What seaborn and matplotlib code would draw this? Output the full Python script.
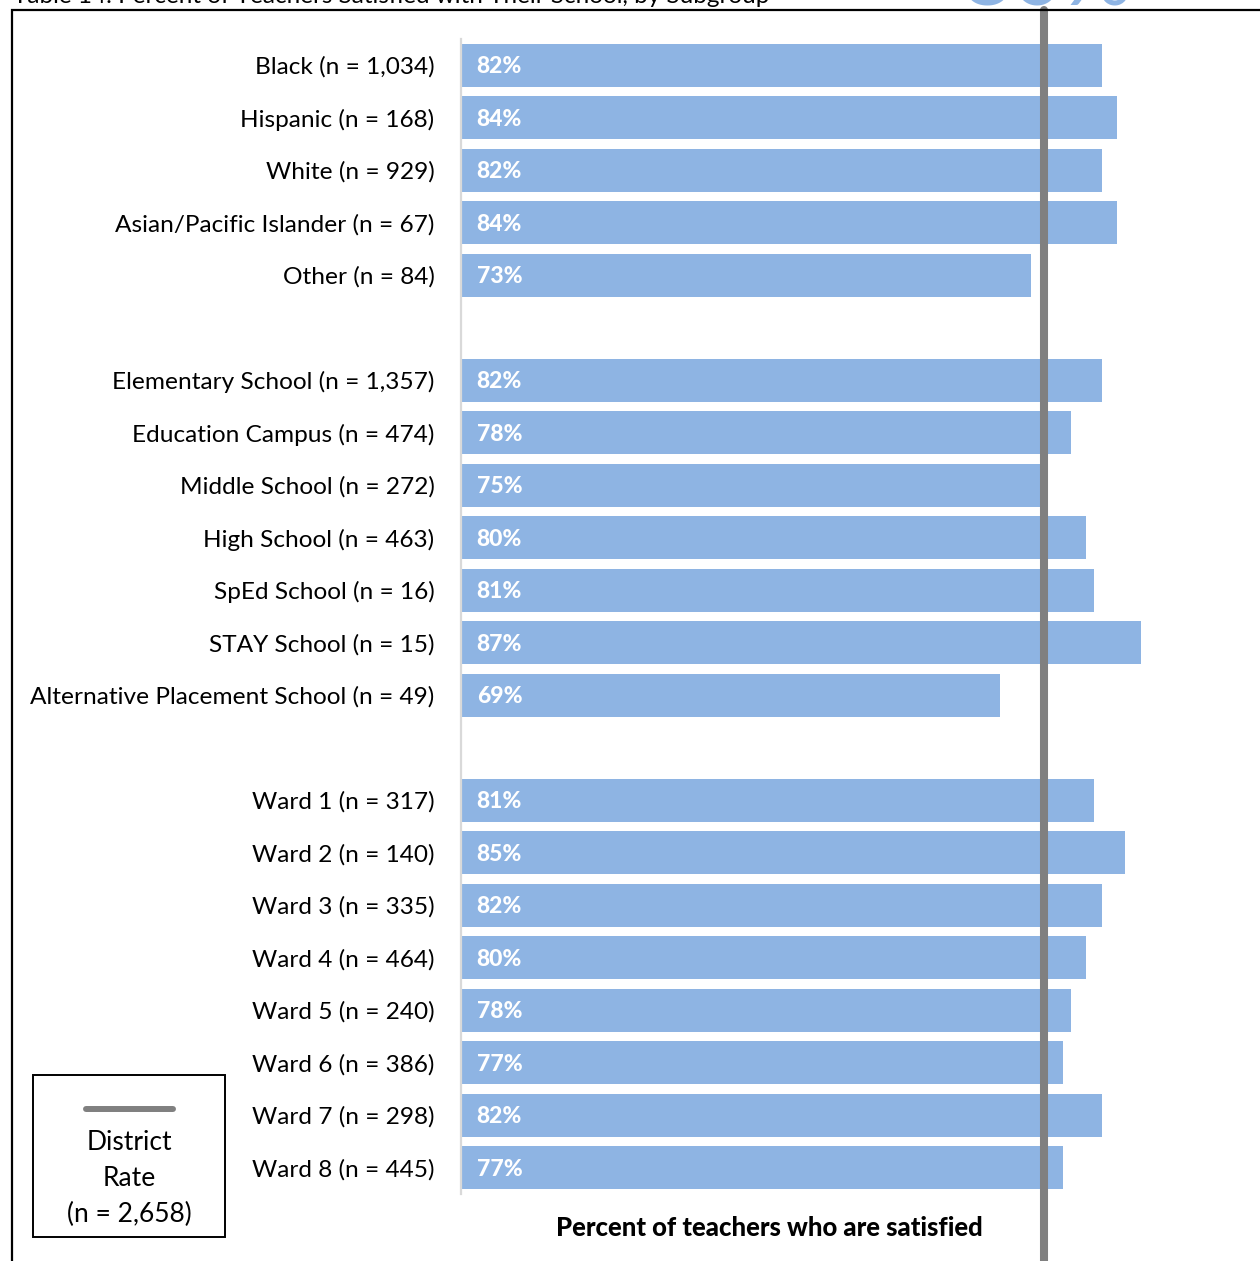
import matplotlib
matplotlib.use("Agg")
import matplotlib.pyplot as plt
from matplotlib.patches import Rectangle
from matplotlib.lines import Line2D
import seaborn as sns
import pandas as pd

# ---- data -------------------------------------------------------------
race_labels = ["Black (n = 1,034)", "Hispanic (n = 168)", "White (n = 929)",
               "Asian/Pacific Islander (n = 67)", "Other (n = 84)"]
race_values = [82, 84, 82, 84, 73]

school_labels = ["Elementary School (n = 1,357)", "Education Campus (n = 474)",
                 "Middle School (n = 272)", "High School (n = 463)",
                 "SpEd School (n = 16)", "STAY School (n = 15)",
                 "Alternative Placement School (n = 49)"]
school_values = [82, 78, 75, 80, 81, 87, 69]

ward_labels = ["Ward 1 (n = 317)", "Ward 2 (n = 140)", "Ward 3 (n = 335)",
               "Ward 4 (n = 464)", "Ward 5 (n = 240)", "Ward 6 (n = 386)",
               "Ward 7 (n = 298)", "Ward 8 (n = 445)"]
ward_values = [81, 85, 82, 80, 78, 77, 82, 77]

district_line = 74.6
district_label = ["District", "Rate", "(n = 2,658)"]
x_label = "Percent of teachers who are satisfied"
table_title = "Table 14. Percent of Teachers Satisfied with Their School, by Subgroup"
headline = "80%"

# ---- layout -----------------------------------------------------------
W, H = 1260, 1261
BAR = "#8EB4E3"
GREY = "#808080"
FONT = ["Lato", "DejaVu Sans"]

sns.set_theme(style="white")
plt.rcParams["font.family"] = FONT

df = pd.DataFrame({
    "group": race_labels + school_labels + ward_labels,
    "pct": race_values + school_values + ward_values,
})
order = race_labels + [" "] + school_labels + ["  "] + ward_labels

fig = plt.figure(figsize=(W / 100, H / 100), dpi=100)

def fx(px):
    return px / W

def fy(py):
    return 1 - py / H

ax = fig.add_axes([fx(461), fy(1194), fx(1242.5) - fx(461), fy(39) - fy(1194)])
sns.barplot(data=df, x="pct", y="group", order=order, orient="h",
            color=BAR, saturation=1, width=0.82, linewidth=0, ax=ax)

ax.set_xlim(0, 100)
ax.set_ylim(len(order) - 0.5, -0.5)
ax.set_xticks([])
ax.set_xlabel("")
ax.set_ylabel("")
ax.tick_params(axis="y", length=0, pad=19, labelsize=17.6, labelcolor="black")
for side in ("top", "right", "bottom"):
    ax.spines[side].set_visible(False)
ax.spines["left"].set_color("#D9D9D9")
ax.spines["left"].set_linewidth(1.6)

# value labels inside the bars
for i, lab in enumerate(order):
    row = df[df["group"] == lab]
    if row.empty:
        continue
    v = int(row["pct"].iloc[0])
    ax.text(2.0, i + 0.03, f"{v}%", color="white", fontweight="black",
            fontsize=16.5, ha="left", va="center")

# district reference line running through the frame
ax.axvline(district_line, ymin=-0.1, ymax=1 + 29 / 1155, color=GREY,
           linewidth=5.8, clip_on=False, zorder=5)

fig.text(fx(769), fy(1228), x_label, ha="center", va="center",
         fontsize=18.5, fontweight="black", color="black")

# outer frame
fig.patches.append(Rectangle((fx(12), -0.05), 1.2, fy(10) + 0.05,
                             transform=fig.transFigure, fill=False,
                             edgecolor="black", linewidth=1.6))

# legend box for the district rate
fig.patches.append(Rectangle((fx(33), fy(1237)), fx(225) - fx(33),
                             fy(1075) - fy(1237), transform=fig.transFigure,
                             fill=False, edgecolor="black", linewidth=1.4))
fig.lines.append(Line2D([fx(86), fx(173)], [fy(1109), fy(1109)],
                        transform=fig.transFigure, color=GREY, linewidth=4.3))
for k, line in enumerate(district_label):
    fig.text(fx(129), fy(1142 + 36 * k), line, ha="center", va="center",
             fontsize=19, color="black")

# caption and headline running off the top edge
fig.text(fx(13), fy(3), table_title, ha="left", va="baseline",
         fontsize=17.5, color="black")
fig.text(fx(962), fy(6), headline, ha="left", va="baseline",
         fontsize=63, color=BAR)

fig.savefig("out.png", dpi=100)
